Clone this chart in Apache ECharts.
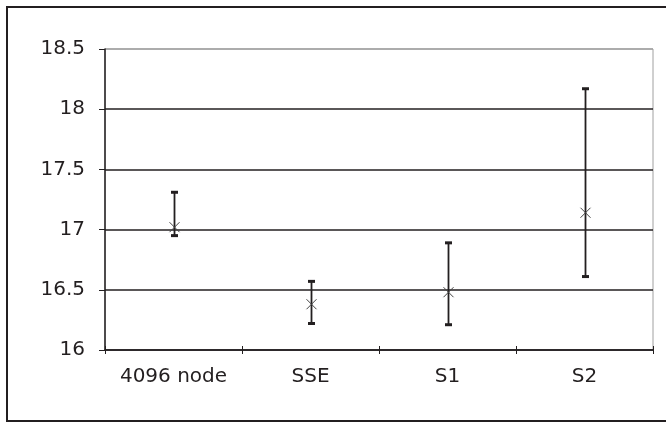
<!DOCTYPE html>
<html>
<head>
<meta charset="utf-8">
<script src="https://cdn.jsdelivr.net/npm/echarts@6/dist/echarts.min.js"></script>
<style>html,body{margin:0;padding:0;background:#fff}#c{width:666px;height:423px}</style>
</head>
<body>
<div id="c"></div>
<script>
var categories = ['4096 node', 'SSE', 'S1', 'S2'];
var means = [17.02, 16.38, 16.48, 17.14];
var lows = [16.95, 16.22, 16.21, 16.61];
var highs = [17.31, 16.57, 16.89, 18.17];
var yTicks = [16, 16.5, 17, 17.5, 18, 18.5];

var ink = '#231f20';
var font = 'DejaVu Sans, Verdana, sans-serif';
var chart = echarts.init(document.getElementById('c'), null, {renderer: 'canvas'});

var errData = categories.map(function (c, i) { return [i, lows[i], highs[i], means[i]]; });

chart.setOption({
  animation: false,
  backgroundColor: '#fff',
  graphic: [{
    type: 'rect', z: 100,
    shape: {x: 7, y: 7, width: 700, height: 414},
    style: {fill: 'none', stroke: ink, lineWidth: 2}
  }],
  grid: {left: 105, right: 13, top: 49, bottom: 73, show: true, borderColor: '#a0a0a0', borderWidth: 1},
  xAxis: [{
    type: 'category', data: categories,
    axisLine: {lineStyle: {color: ink, width: 1.5}},
    axisTick: {show: true, length: 4, lineStyle: {color: ink}},
    axisLabel: {color: ink, fontFamily: font, fontSize: 20, margin: 17, interval: 0, hideOverlap: false},
    splitLine: {show: false}
  }, {
    type: 'category', data: categories, position: 'bottom',
    axisLine: {show: false},
    axisTick: {show: true, inside: true, length: 4, lineStyle: {color: ink}},
    axisLabel: {show: false}
  }],
  yAxis: {
    type: 'value', min: 16, max: 18.5, interval: 0.5,
    axisLine: {show: true, lineStyle: {color: ink, width: 1.5}},
    axisTick: {show: true, length: 6, lineStyle: {color: ink}},
    axisLabel: {color: ink, fontFamily: font, fontSize: 20, margin: 20,
      formatter: function (v) { return String(v); }},
    splitLine: {show: true, lineStyle: {color: [ink, ink, ink, ink, ink, '#a0a0a0'], width: 1.5}}
  },
  series: [{
    type: 'custom',
    data: errData,
    encode: {x: 0, y: [1, 2, 3]},
    renderItem: function (params, api) {
      var x = api.coord([api.value(0), api.value(1)])[0];
      var yl = api.coord([api.value(0), api.value(1)])[1];
      var yh = api.coord([api.value(0), api.value(2)])[1];
      var ym = api.coord([api.value(0), api.value(3)])[1];
      var xr = Math.round(x) + 0.5;
      var s = 5;
      return {
        type: 'group',
        children: [
          {type: 'line', shape: {x1: xr, y1: yh, x2: xr, y2: yl}, style: {stroke: ink, lineWidth: 1.8}},
          {type: 'line', shape: {x1: xr - 3.5, y1: yh, x2: xr + 3.5, y2: yh}, style: {stroke: ink, lineWidth: 3}},
          {type: 'line', shape: {x1: xr - 3.5, y1: yl, x2: xr + 3.5, y2: yl}, style: {stroke: ink, lineWidth: 3}},
          {type: 'line', shape: {x1: xr - s, y1: ym - s, x2: xr + s, y2: ym + s}, style: {stroke: '#444', lineWidth: 1}},
          {type: 'line', shape: {x1: xr - s, y1: ym + s, x2: xr + s, y2: ym - s}, style: {stroke: '#444', lineWidth: 1}}
        ]
      };
    }
  }]
});
</script>
</body>
</html>
